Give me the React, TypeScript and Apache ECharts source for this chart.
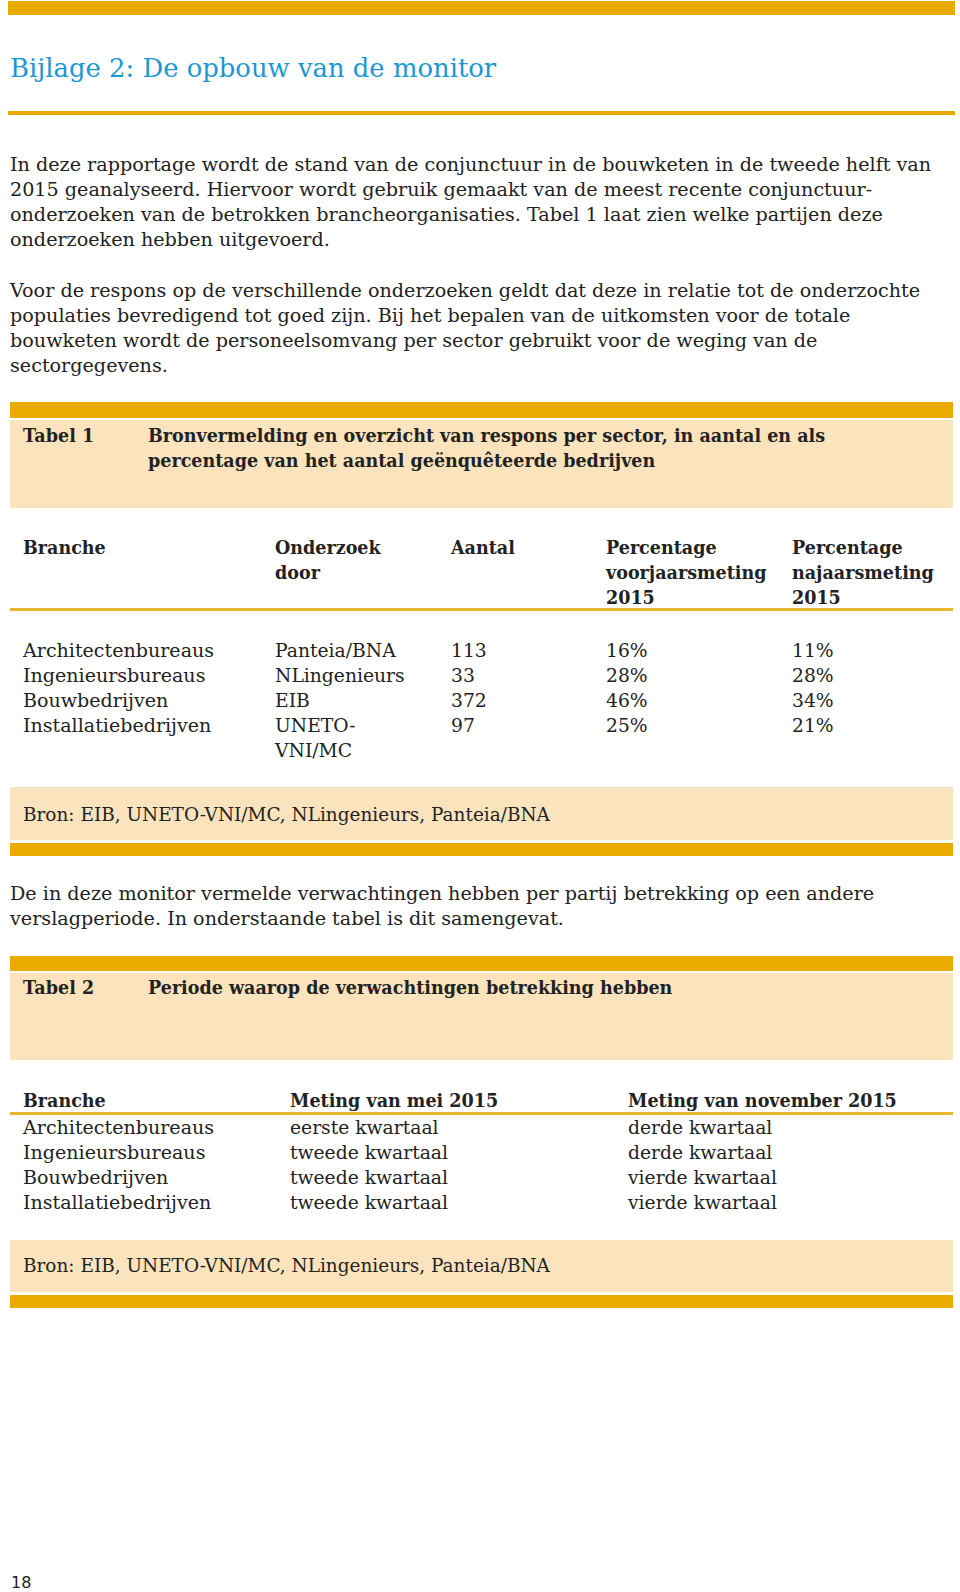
import React, { useEffect, useRef } from "react";
import * as echarts from "echarts";

const title = "Bijlage 2: De opbouw van de monitor";
const para1 = [
  "In deze rapportage wordt de stand van de conjunctuur in de bouwketen in de tweede helft van",
  "2015 geanalyseerd. Hiervoor wordt gebruik gemaakt van de meest recente conjunctuur-",
  "onderzoeken van de betrokken brancheorganisaties. Tabel 1 laat zien welke partijen deze",
  "onderzoeken hebben uitgevoerd.",
];
const para2 = [
  "Voor de respons op de verschillende onderzoeken geldt dat deze in relatie tot de onderzochte",
  "populaties bevredigend tot goed zijn. Bij het bepalen van de uitkomsten voor de totale",
  "bouwketen wordt de personeelsomvang per sector gebruikt voor de weging van de",
  "sectorgegevens.",
];
const para3 = [
  "De in deze monitor vermelde verwachtingen hebben per partij betrekking op een andere",
  "verslagperiode. In onderstaande tabel is dit samengevat.",
];
const tabel1Label = "Tabel 1";
const tabel1Title = [
  "Bronvermelding en overzicht van respons per sector, in aantal en als",
  "percentage van het aantal geënquêteerde bedrijven",
];
const t1Headers = [["Branche"], ["Onderzoek", "door"], ["Aantal"], ["Percentage", "voorjaarsmeting", "2015"], ["Percentage", "najaarsmeting", "2015"]];
const branches = ["Architectenbureaus", "Ingenieursbureaus", "Bouwbedrijven", "Installatiebedrijven"];
const onderzoek = [["Panteia/BNA"], ["NLingenieurs"], ["EIB"], ["UNETO-", "VNI/MC"]];
const aantal = [113, 33, 372, 97];
const pctVoorjaar = [16, 28, 46, 25];
const pctNajaar = [11, 28, 34, 21];
const bron = "Bron: EIB, UNETO-VNI/MC, NLingenieurs, Panteia/BNA";
const tabel2Label = "Tabel 2";
const tabel2Title = "Periode waarop de verwachtingen betrekking hebben";
const t2Headers = ["Branche", "Meting van mei 2015", "Meting van november 2015"];
const metingMei = ["eerste kwartaal", "tweede kwartaal", "tweede kwartaal", "tweede kwartaal"];
const metingNov = ["derde kwartaal", "derde kwartaal", "vierde kwartaal", "vierde kwartaal"];
const pageNumber = "18";

const GOLD = "#e9ab00";
const LIGHT = "#fbe4bd";
const INK = "#222222";
const BLUE = "#1b97d3";
const SERIF = "'DejaVu Serif', serif";
const FS = 18;
const LH = 25;

function T(text: string, x: number, y: number, o: any = {}) {
  const bold = o.fontWeight === "bold";
  return {
    type: "text",
    x,
    y,
    scaleX: o.scaleX != null ? o.scaleX : bold ? 0.975 : 1.065,
    silent: true,
    style: {
      text,
      fill: o.fill || INK,
      fontSize: o.fontSize || FS,
      fontFamily: o.fontFamily || SERIF,
      fontWeight: o.fontWeight || "normal",
      textAlign: "left",
      textVerticalAlign: "middle",
      align: "left",
      verticalAlign: "middle",
    },
  };
}
function R(x: number, y: number, w: number, h: number, fill: string) {
  return { type: "rect", silent: true, shape: { x, y, width: w, height: h }, style: { fill } };
}

export default function App() {
  const ref = useRef<HTMLDivElement>(null);
  useEffect(() => {
    if (!ref.current) return;
    const chart = echarts.init(ref.current, null, { renderer: "svg" });
    const els: any[] = [];
    const L = 10, W = 943;
    // top bar and title
    els.push(R(8, 1, 947, 14, GOLD));
    els.push(T(title, 10, 68, { fontSize: 26, fill: BLUE, scaleX: 0.995 }));
    els.push(R(8, 111, 947, 4, GOLD));
    para1.forEach((s, i) => els.push(T(s, L, 165 + i * LH)));
    para2.forEach((s, i) => els.push(T(s, L, 291 + i * LH)));
    // Tabel 1 header box
    els.push(R(L, 402, W, 16, GOLD));
    els.push(R(L, 420, W, 88, LIGHT));
    els.push(T(tabel1Label, 23, 435, { fontWeight: "bold" }));
    tabel1Title.forEach((s, i) => els.push(T(s, 148, 435 + i * LH, { fontWeight: "bold" })));
    const colX = [23, 275, 451, 606, 792];
    t1Headers.forEach((lines, c) => lines.forEach((s, i) => els.push(T(s, colX[c], 547 + i * LH, { fontWeight: "bold" }))));
    els.push(R(L, 608, W, 3, "#e6b631"));
    branches.forEach((b, r) => {
      const y = 651 + r * LH;
      els.push(T(b, colX[0], y, { scaleX: 1.06 }));
      onderzoek[r].forEach((s, i) => els.push(T(s, colX[1], y + i * LH, { scaleX: 1.04 })));
      els.push(T(String(aantal[r]), colX[2], y, { scaleX: 1.04 }));
      els.push(T(pctVoorjaar[r] + "%", colX[3], y, { scaleX: 1.04 }));
      els.push(T(pctNajaar[r] + "%", colX[4], y, { scaleX: 1.04 }));
    });
    els.push(R(L, 787, W, 53, LIGHT));
    els.push(T(bron, 23, 815, { scaleX: 1.025 }));
    els.push(R(L, 843, W, 13, GOLD));
    para3.forEach((s, i) => els.push(T(s, L, 894 + i * LH)));
    // Tabel 2
    els.push(R(L, 956, W, 15, GOLD));
    els.push(R(L, 973, W, 87, LIGHT));
    els.push(T(tabel2Label, 23, 987, { fontWeight: "bold" }));
    els.push(T(tabel2Title, 148, 987, { fontWeight: "bold" }));
    const col2X = [23, 290, 628];
    t2Headers.forEach((s, c) => els.push(T(s, col2X[c], 1100, { fontWeight: "bold" })));
    els.push(R(L, 1112, W, 3, "#e6b631"));
    branches.forEach((b, r) => {
      const y = 1128 + r * LH;
      els.push(T(b, col2X[0], y, { scaleX: 1.06 }));
      els.push(T(metingMei[r], col2X[1], y, { scaleX: 1.04 }));
      els.push(T(metingNov[r], col2X[2], y, { scaleX: 1.04 }));
    });
    els.push(R(L, 1240, W, 52, LIGHT));
    els.push(T(bron, 23, 1266, { scaleX: 1.025 }));
    els.push(R(L, 1295, W, 13, GOLD));
    els.push(T(pageNumber, 11, 1582, { fontFamily: "'DejaVu Sans', sans-serif", fontSize: 16, scaleX: 1 }));
    chart.setOption({ animation: false, graphic: { elements: els } });
    return () => chart.dispose();
  }, []);
  return (
    <div
      ref={ref}
      style={{ position: "absolute", left: 0, top: 0, width: 960, height: 1592, background: "#ffffff" }}
    />
  );
}
